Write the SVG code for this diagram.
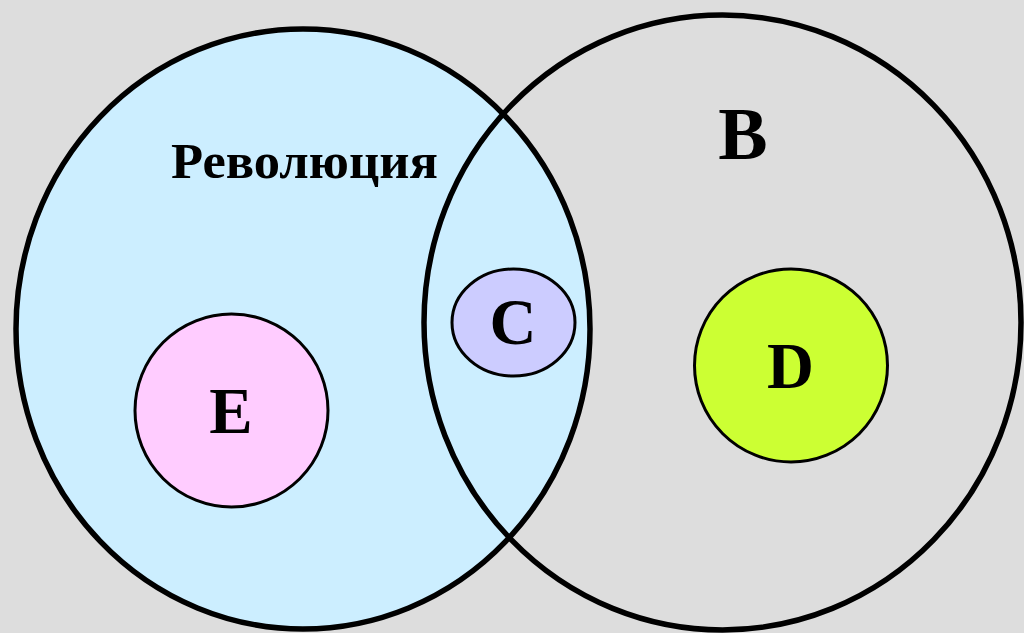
<svg xmlns="http://www.w3.org/2000/svg" width="1024" height="633" viewBox="0 0 1024 633">
<style>
.big{stroke:#000;stroke-width:5.5}
.small{stroke:#000;stroke-width:3}
.lbl{font-family:"Liberation Serif","Times New Roman",serif;font-weight:bold;fill:#000;text-anchor:middle}
</style>
<rect x="0" y="0" width="1024" height="633" fill="#dddddd"/>
<g id="revolution">
<ellipse class="big" cx="303" cy="329" rx="287" ry="300" fill="#cceeff"/>
<text class="lbl" x="171" y="178" font-size="50" style="text-anchor:start" textLength="267" lengthAdjust="spacingAndGlyphs">Революция</text>
</g>
<g id="B">
<ellipse class="big" cx="722.5" cy="322.5" rx="298.5" ry="307.5" fill="none"/>
<text class="lbl" x="743" y="159" font-size="74">B</text>
</g>
<g id="C">
<ellipse class="small" cx="513.5" cy="322.5" rx="61.5" ry="53.5" fill="#ccccff"/>
<text class="lbl" x="513" y="344" font-size="65">C</text>
</g>
<g id="E">
<circle class="small" cx="231.5" cy="410.5" r="96.5" fill="#ffccff"/>
<text class="lbl" x="231" y="433" font-size="65">E</text>
</g>
<g id="D">
<circle class="small" cx="791" cy="365.5" r="96.5" fill="#ccff33"/>
<text class="lbl" x="790.5" y="388" font-size="65">D</text>
</g>
<g id="connectors"/>
</svg>
